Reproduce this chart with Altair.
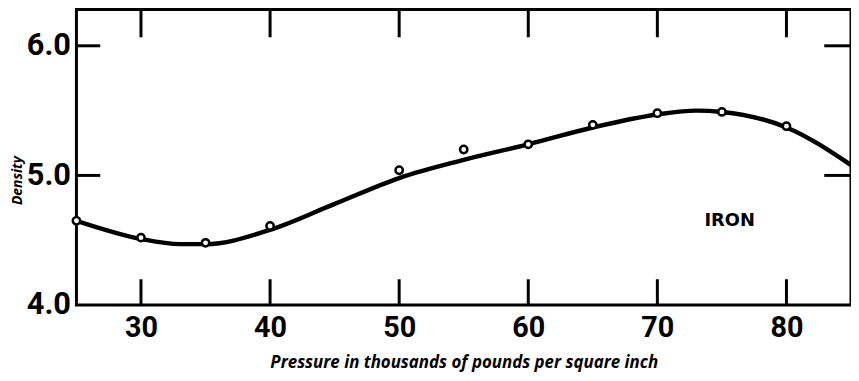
import altair as alt
import pandas as pd

# Measured points (open circles)
pt_pressure = [25, 30, 35, 40, 50, 55, 60, 65, 70, 75, 80]
pt_density = [4.65, 4.52, 4.48, 4.61, 5.04, 5.20, 5.24, 5.39, 5.48, 5.49, 5.38]

# Smooth curve
curve_pressure = [25, 30, 33, 35, 40, 45, 50, 55, 60, 65, 70, 73, 75, 80, 85]
curve_density = [4.65, 4.51, 4.47, 4.47, 4.58, 4.78, 4.98, 5.12, 5.24, 5.37, 5.47, 5.50, 5.49, 5.37, 5.08]

x_ticks = [30, 40, 50, 60, 70, 80]
y_ticks = [5.0, 6.0]
y_labels = [4.0, 5.0, 6.0]

W, H = 781, 298
LABEL_FONT = "Roboto, Liberation Sans, sans-serif"
TITLE_FONT = "Open Sans, DejaVu Sans, sans-serif"

xs = alt.Scale(domain=[25, 85], nice=False, zero=False)
ys = alt.Scale(domain=[4.0, 6.28], nice=False, zero=False)

pts = pd.DataFrame({"p": pt_pressure, "d": pt_density})
cur = pd.DataFrame({"p": curve_pressure, "d": curve_density})
xt = pd.DataFrame({"p": x_ticks})
yt = pd.DataFrame({"d": y_ticks})
iron = pd.DataFrame({"p": [75.6], "d": [4.65], "t": ["IRON"]})

line = alt.Chart(cur).mark_line(color="black", strokeWidth=4.5, interpolate="monotone", clip=True).encode(
    x=alt.X("p:Q", scale=xs, axis=alt.Axis(
        values=x_ticks, ticks=False, domain=False, grid=False,
        labelFont=LABEL_FONT, labelFontSize=29, labelFontWeight="bold", labelColor="black",
        labelPadding=9,
        title="Pressure in thousands of pounds per square inch",
        titleFont=TITLE_FONT, titleFontSize=17, titleFontStyle="italic", titleFontWeight="bold",
        titleColor="black", titleY=58, titleBaseline="middle")),
    y=alt.Y("d:Q", scale=ys, axis=alt.Axis(
        values=y_labels, format=".1f", ticks=False, domain=False, grid=False,
        labelFont=LABEL_FONT, labelFontSize=31, labelFontWeight="bold", labelColor="black",
        labelPadding=6,
        title="Density", titleFont=TITLE_FONT, titleFontSize=14, titleFontStyle="italic",
        titleFontWeight="bold", titleColor="black",
        titleX=-59, titleY=172, titleAlign="center", titleBaseline="middle", titleAngle=270)),
)

circles = alt.Chart(pts).mark_point(shape="circle", filled=True, fill="white", stroke="black",
                                     strokeWidth=2.5, size=55, opacity=1).encode(
    x=alt.X("p:Q", scale=xs), y=alt.Y("d:Q", scale=ys))

bottom_ticks = alt.Chart(xt).mark_rule(color="black", strokeWidth=3).encode(
    x=alt.X("p:Q", scale=xs), y=alt.value(H), y2=alt.value(H - 26))
top_ticks = alt.Chart(xt).mark_rule(color="black", strokeWidth=3).encode(
    x=alt.X("p:Q", scale=xs), y=alt.value(0), y2=alt.value(28))
left_ticks = alt.Chart(yt).mark_rule(color="black", strokeWidth=3).encode(
    y=alt.Y("d:Q", scale=ys), x=alt.value(0), x2=alt.value(24))
right_ticks = alt.Chart(yt).mark_rule(color="black", strokeWidth=3).encode(
    y=alt.Y("d:Q", scale=ys), x=alt.value(W), x2=alt.value(W - 27))

iron_text = alt.Chart(iron).mark_text(font="DejaVu Sans, sans-serif", fontWeight="bold", fontSize=18,
                                       color="black").encode(
    x=alt.X("p:Q", scale=xs), y=alt.Y("d:Q", scale=ys), text="t:N")

chart = alt.layer(line, bottom_ticks, top_ticks, left_ticks, right_ticks, circles, iron_text).properties(
    width=W, height=H,
    autosize=alt.AutoSizeParams(type="none"),
    padding={"left": 69, "top": 0, "right": 0, "bottom": 67},
    background="white",
).configure_view(stroke="black", strokeWidth=3)

chart.save("out.html", embed_options={"renderer": "svg", "actions": False})
